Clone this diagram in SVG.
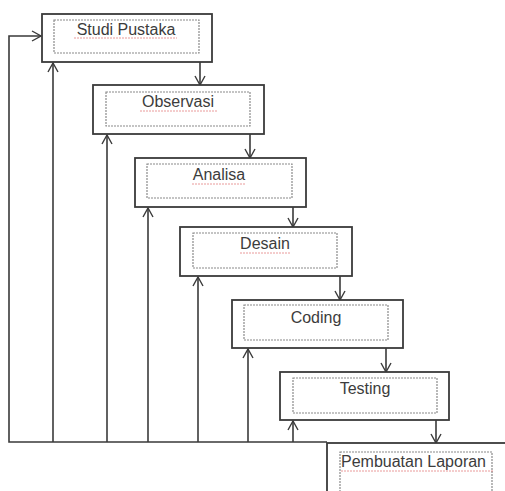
<svg xmlns="http://www.w3.org/2000/svg" width="505" height="491" viewBox="0 0 505 491">
<defs>
<marker id="arr" viewBox="0 0 12 12" refX="11" refY="6" markerWidth="12" markerHeight="12" markerUnits="userSpaceOnUse" orient="auto">
<polyline points="2,1 11,6 2,11" fill="none" stroke="#3a3a3a" stroke-width="1.4"/>
</marker>
</defs>
<style>
.box{fill:#fff;stroke:#3a3a3a;stroke-width:1.8}
.inner{fill:none;stroke:#8a8a8a;stroke-width:1.2;stroke-dasharray:2 1}
.lbl{font-family:"Liberation Sans",Arial,sans-serif;font-size:16px;fill:#3c3c3c;text-anchor:middle}
.sq{fill:none;stroke:#e07070;stroke-width:1;stroke-dasharray:2 1;opacity:0.7}
.ln{fill:none;stroke:#3a3a3a;stroke-width:1.6}
</style>
<rect width="505" height="491" fill="#fff"/>
<g id="connectors">
<polyline class="ln" points="327,442 9,442 9,36 41,36" marker-end="url(#arr)"/>
<line class="ln" x1="53" y1="442" x2="53" y2="63" marker-end="url(#arr)"/>
<line class="ln" x1="107" y1="442" x2="107" y2="135" marker-end="url(#arr)"/>
<line class="ln" x1="148" y1="442" x2="148" y2="208" marker-end="url(#arr)"/>
<line class="ln" x1="198" y1="442" x2="198" y2="277" marker-end="url(#arr)"/>
<line class="ln" x1="248" y1="442" x2="248" y2="349" marker-end="url(#arr)"/>
<line class="ln" x1="293" y1="442" x2="293" y2="421" marker-end="url(#arr)"/>
<line class="ln" x1="200" y1="62" x2="200" y2="85" marker-end="url(#arr)"/>
<line class="ln" x1="250" y1="134" x2="250" y2="158" marker-end="url(#arr)"/>
<line class="ln" x1="293" y1="207" x2="293" y2="227" marker-end="url(#arr)"/>
<line class="ln" x1="340" y1="276" x2="340" y2="300" marker-end="url(#arr)"/>
<line class="ln" x1="386" y1="348" x2="386" y2="372" marker-end="url(#arr)"/>
<line class="ln" x1="436" y1="420" x2="436" y2="443" marker-end="url(#arr)"/>
</g>
<g id="studi-pustaka">
<rect class="box" x="42" y="14" width="170" height="48"/>
<rect class="inner" x="54" y="20" width="145" height="33"/>
<text class="lbl" x="126" y="35">Studi Pustaka</text>
<line class="sq" x1="74" y1="38" x2="177" y2="38"/>
</g>
<g id="observasi">
<rect class="box" x="93" y="85" width="171" height="49"/>
<rect class="inner" x="106" y="92" width="144" height="34"/>
<text class="lbl" x="178" y="107">Observasi</text>
<line class="sq" x1="140" y1="111" x2="217" y2="111"/>
</g>
<g id="analisa">
<rect class="box" x="135" y="158" width="171" height="49"/>
<rect class="inner" x="147" y="164" width="145" height="34"/>
<text class="lbl" x="219" y="180">Analisa</text>
<line class="sq" x1="192" y1="184" x2="246" y2="184"/>
</g>
<g id="desain">
<rect class="box" x="180" y="227" width="172" height="49"/>
<rect class="inner" x="193" y="233" width="144" height="35"/>
<text class="lbl" x="265" y="249">Desain</text>
<line class="sq" x1="240" y1="253" x2="291" y2="253"/>
</g>
<g id="coding">
<rect class="box" x="232" y="300" width="171" height="48"/>
<rect class="inner" x="244" y="305" width="144" height="35"/>
<text class="lbl" x="316" y="323">Coding</text>
</g>
<g id="testing">
<rect class="box" x="280" y="372" width="169" height="48"/>
<rect class="inner" x="293" y="378" width="144" height="35"/>
<text class="lbl" x="365" y="394">Testing</text>
</g>
<g id="pembuatan-laporan">
<rect class="box" x="327" y="443" width="190" height="60"/>
<rect class="inner" x="340" y="452" width="152" height="45"/>
<text class="lbl" x="341" y="467" style="text-anchor:start">Pembuatan Laporan</text>
<line class="sq" x1="341" y1="471" x2="493" y2="471"/>
</g>
</svg>
